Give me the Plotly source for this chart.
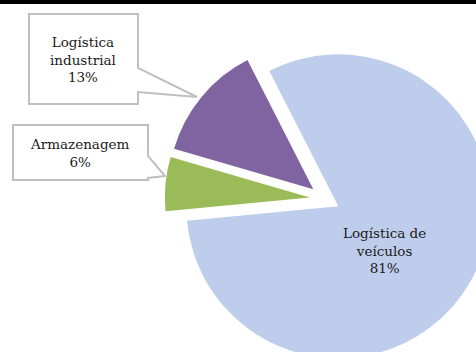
import plotly.graph_objects as go

# Shares of activity by logistics segment
labels = ["Logística de veículos", "Armazenagem", "Logística industrial"]
label_lines = ["Logística de<br>veículos", "Armazenagem", "Logística<br>industrial"]
values = [81, 6, 13]
colors = ["#bfcdec", "#9bbb59", "#8064a2"]

# Canvas is a bit larger than the viewport so the big slice runs off the edge
W, H = 500, 380
CX, CY = 325, 199
R_BIG, R_SMALL = 152, 145
OFFSET = 15.2          # exploded distance of every slice, px
ROTATION = -27


def fx(x):
    return x / W


def fy(y):
    return 1 - y / H


def pie_layer(radius, visible):
    """One pie drawn at a given radius; slices not in `visible` are clear."""
    pull = OFFSET / radius
    half = radius + OFFSET
    cols = [c if i in visible else "rgba(0,0,0,0)" for i, c in enumerate(colors)]
    return go.Pie(
        labels=labels,
        values=values,
        marker=dict(colors=cols, line=dict(width=0)),
        pull=[pull] * len(values),
        sort=False,
        direction="clockwise",
        rotation=ROTATION,
        textinfo="none",
        hoverinfo="label+percent",
        showlegend=False,
        domain=dict(x=[fx(CX - half), fx(CX + half)],
                    y=[fy(CY + half), fy(CY - half)]),
    )


fig = go.Figure([pie_layer(R_BIG, {0}), pie_layer(R_SMALL, {1, 2})])


def path(points):
    return "M " + " L ".join(f"{fx(x):.5f},{fy(y):.5f}" for x, y in points) + " Z"


shapes = [
    # thin dark rule across the top
    dict(type="rect", xref="paper", yref="paper", x0=0, x1=1, y0=fy(4), y1=1,
         fillcolor="black", line=dict(width=0)),
    # callout for "Logística industrial"
    dict(type="path", xref="paper", yref="paper",
         path=path([(29, 14), (138, 14), (138, 68), (197, 97), (138, 92),
                    (138, 104), (29, 104)]),
         fillcolor="white", line=dict(color="#bfbfbf", width=2)),
    # callout for "Armazenagem"
    dict(type="path", xref="paper", yref="paper",
         path=path([(13, 125), (148, 125), (148, 156), (165, 176), (148, 178),
                    (148, 180), (13, 180)]),
         fillcolor="white", line=dict(color="#bfbfbf", width=2)),
]

font = dict(family="DejaVu Serif", size=13.5, color="#1a1a1a")
label_pos = [(384, 250), (80, 153), (83, 59)]
annotations = []
for text, v, (x, y) in zip(label_lines, values, label_pos):
    annotations.append(dict(
        text=f"{text}<br>{v}%", x=fx(x), y=fy(y), xref="paper", yref="paper",
        xanchor="center", yanchor="middle", showarrow=False, align="center",
        font=font,
    ))

fig.update_layout(
    width=W, height=H, autosize=False,
    margin=dict(l=0, r=0, t=0, b=0),
    paper_bgcolor="white", plot_bgcolor="white",
    shapes=shapes, annotations=annotations,
)

fig.write_html(
    "out.html",
    post_script="document.body.style.overflow='hidden';"
                "document.documentElement.style.overflow='hidden';",
)
